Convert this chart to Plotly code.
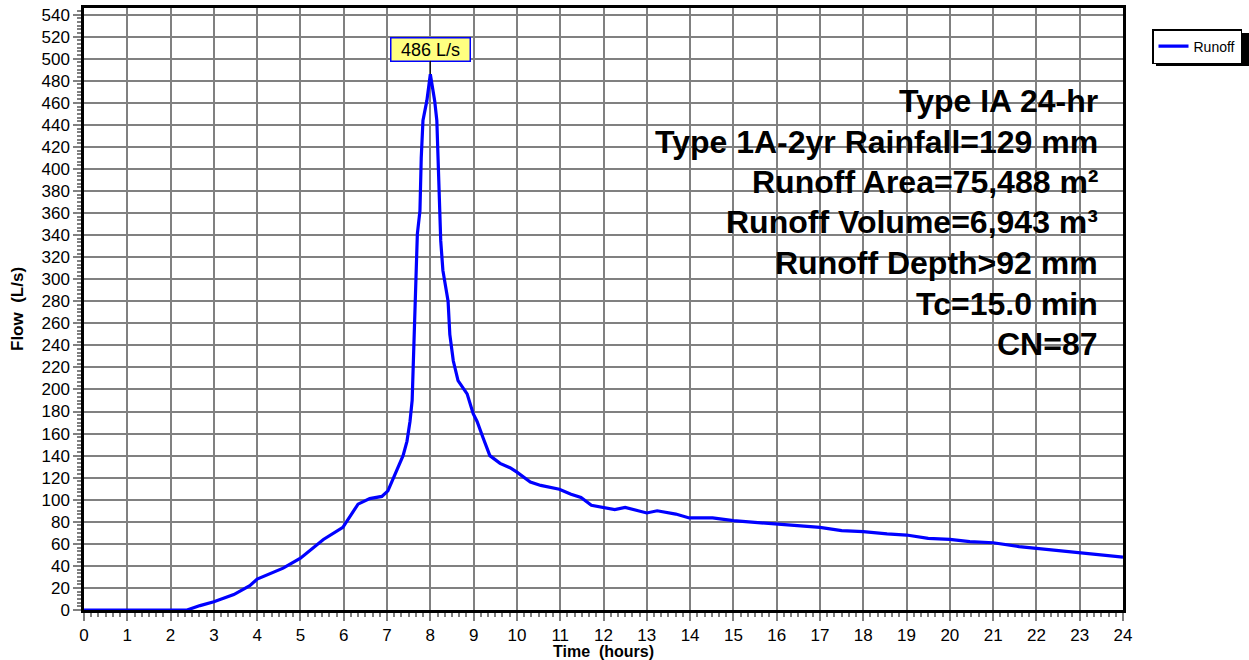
import plotly.graph_objects as go

time_hr = [0, 2.38, 2.68, 3.0, 3.46, 3.83, 4.0, 4.6, 5.0, 5.15, 5.53, 5.98, 6.14, 6.33, 6.6, 6.88,
           7.02, 7.18, 7.37, 7.46, 7.53, 7.58, 7.6, 7.63, 7.67, 7.7, 7.76, 7.79, 7.83, 7.92, 8.0,
           8.1, 8.15, 8.22, 8.24, 8.29, 8.41, 8.45, 8.53, 8.64, 8.85, 8.99, 9.08, 9.22, 9.375,
           9.61, 9.84, 10.0, 10.31, 10.55, 10.98, 11.25, 11.48, 11.72, 12.03, 12.26, 12.5,
           12.73, 13.0, 13.24, 13.67, 13.98, 14.52, 15.0, 15.47, 16.0, 16.5, 17.0, 17.5, 18.0,
           18.55, 19.0, 19.5, 20.0, 20.46, 21.0, 21.6, 22.0, 22.5, 23.0, 23.5, 24.0]
flow_ls = [0, 0, 4, 7.5, 14, 22, 28, 38, 47, 52, 64, 75, 85, 96, 101, 103,
           108, 122, 140, 153, 171, 190, 215, 250, 300, 341, 362, 410, 444, 462, 486,
           462, 444, 371, 335, 308, 280, 250, 226, 208, 196, 178, 171, 156, 140,
           133, 129, 125, 116, 113, 109.5, 105, 102, 95, 93, 91, 93,
           91, 88, 90, 87, 83.5, 83.5, 81, 79.5, 78, 76.5, 75, 72, 71,
           69, 68, 65, 64, 62, 61, 57.5, 56, 54, 52, 50.5, 48]

peak_label = "486 L/s"
info_lines = ["Type IA 24-hr", "Type 1A-2yr Rainfall=129 mm", "Runoff Area=75,488 m²",
              "Runoff Volume=6,943 m³", "Runoff Depth>92 mm", "Tc=15.0 min", "CN=87"]

FONT = "Arial, Liberation Sans, sans-serif"
W, H = 1249, 660
L, R, T, B = 84, 126, 8, 50
pw, ph = W - L - R, H - T - B

def px_x(px):  # page pixel -> paper x
    return (px - L) / pw

def px_y(py):  # page pixel -> paper y
    return (H - B - py) / ph

fig = go.Figure()
fig.add_trace(go.Scatter(x=time_hr, y=flow_ls, mode="lines", name="Runoff",
                         line=dict(color="#0000ff", width=3.2)))

peak_i = flow_ls.index(max(flow_ls))
fig.add_annotation(x=time_hr[peak_i], y=flow_ls[peak_i], text=peak_label, showarrow=True,
                   arrowhead=0, arrowwidth=1, arrowcolor="black", ax=0, ay=-25,
                   bgcolor="#ffff80", bordercolor="#0000ff", borderwidth=1.5, borderpad=1,
                   font=dict(family=FONT, size=18, color="black"), width=76)

baselines = [112, 153, 193, 233, 274, 315, 355]
for txt, bl in zip(info_lines, baselines):
    fig.add_annotation(xref="paper", yref="paper", x=px_x(1100), y=px_y(bl - 11),
                       xanchor="right", yanchor="middle", showarrow=False,
                       text="<b>%s</b>" % txt,
                       font=dict(family=FONT, size=32, color="black"))

# legend shadow
fig.add_shape(type="rect", xref="paper", yref="paper",
              x0=px_x(1156), x1=px_x(1255), y0=px_y(66), y1=px_y(33),
              fillcolor="black", line=dict(width=0), layer="above")

axis_common = dict(showgrid=True, gridcolor="#808080", gridwidth=2,
                   showline=True, linecolor="black", linewidth=2.5, mirror=True,
                   ticks="outside", ticklen=8, tickcolor="#808080", tickwidth=1.5,
                   tickfont=dict(family=FONT, size=17, color="black"), zeroline=False)

fig.update_xaxes(range=[0, 24], dtick=1, tick0=0,
                 minor=dict(ticks="outside", ticklen=4, dtick=1/6, tickcolor="#808080", showgrid=False),
                 title=dict(text="<b>Time&nbsp; (hours)</b>", font=dict(family=FONT, size=16, color="black"), standoff=2),
                 **axis_common)
fig.update_yaxes(range=[0, 546], dtick=20, tick0=0,
                 minor=dict(ticks="outside", ticklen=4, dtick=20/6, tickcolor="#808080", showgrid=False),
                 title=dict(text="<b>Flow&nbsp; (L/s)</b>", font=dict(family=FONT, size=17, color="black"), standoff=14),
                 **axis_common)

fig.update_layout(width=W, height=H, margin=dict(l=L, r=R, t=T, b=B, autoexpand=False),
                  plot_bgcolor="white", paper_bgcolor="white",
                  showlegend=True,
                  legend=dict(x=px_x(1152), y=px_y(29), xanchor="left", yanchor="top",
                              bgcolor="white", bordercolor="black", borderwidth=1.5,
                              font=dict(family=FONT, size=14, color="black"),
                              itemwidth=30, tracegroupgap=0))

fig.write_html("out.html", post_script="document.body.style.margin='0';",
               config={"displayModeBar": False})
